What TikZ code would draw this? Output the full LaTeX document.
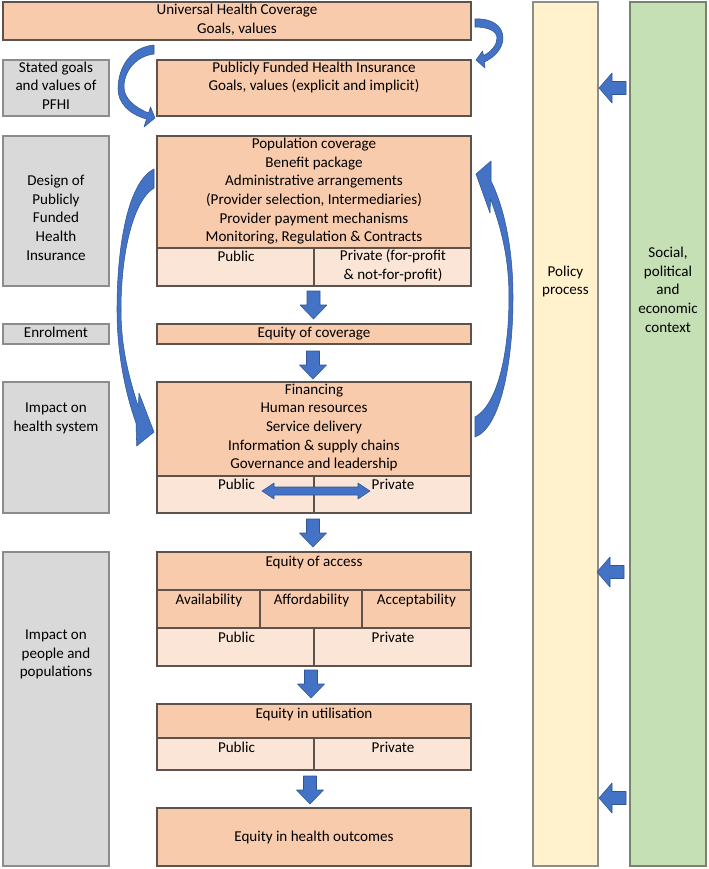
\documentclass[tikz,border=0pt]{standalone}
\usepackage{fontspec}
\setmainfont{Carlito}
\definecolor{orangefill}{HTML}{F8CBAD}
\definecolor{lightorange}{HTML}{FBE5D6}
\definecolor{boxline}{HTML}{5E524C}
\definecolor{grayfill}{HTML}{D9D9D9}
\definecolor{grayline}{HTML}{8C8C8C}
\definecolor{policyfill}{HTML}{FFF2CC}
\definecolor{ctxfill}{HTML}{C5E0B4}
\definecolor{ctxline}{HTML}{77846E}
\definecolor{arrowblue}{HTML}{4472C4}
\definecolor{arrowedge}{HTML}{2F5597}
\newcommand{\boxat}[6]{\node[#2, minimum width={(#5-#3)*0.75pt}, minimum height={(#6-#4)*0.75pt}] (#1) at ({(#3+#5)/2},{(#4+#6)/2}) {};}
\begin{document}
\begin{tikzpicture}[x=0.75pt,y=-0.75pt,
  base/.style={inner sep=0pt, outer sep=0pt, line width=0.8pt},
  obox/.style={base, draw=boxline, fill=orangefill},
  lbox/.style={base, draw=boxline, fill=lightorange},
  gbox/.style={base, draw=grayline, fill=grayfill},
  pbox/.style={base, draw=grayline, fill=policyfill},
  cbox/.style={base, draw=ctxline, fill=ctxfill},
  txt/.style={inner sep=0pt, align=center, font=\fontsize{11.3}{14}\selectfont, text=black,
     execute at begin node=\strut, execute at end node=\strut},
  bluearrow/.style={fill=arrowblue, draw=arrowedge, line width=0.4pt, line join=round},
  downarrow/.pic={\path[bluearrow] (-6.5,0) -- (6.5,0) -- (6.5,14) -- (13.5,14) -- (0,28) -- (-13.5,14) -- (-6.5,14) -- cycle;},
  leftarrow/.pic={\path[bluearrow] (0,0) -- (13,-15) -- (13,-6.5) -- (27,-6.5) -- (27,6.5) -- (13,6.5) -- (13,15) -- cycle;},
  dblarrow/.pic={\path[bluearrow] (0,0) -- (12,-8) -- (12,-4) -- (96,-4) -- (96,-8) -- (108,0) -- (96,8) -- (96,4) -- (12,4) -- (12,8) -- cycle;},
]
\useasboundingbox (0,0) rectangle (709,869);
\fill[white] (0,0) rectangle (709,869);

% right columns
\boxat{pol}{pbox}{533}{2}{598}{866}
\boxat{ctx}{cbox}{630}{2}{706}{866}
\node[txt] (tpol) at (565.5,283) {Policy\\process};
\node[txt] (tctx) at (668,292.5) {Social,\\political\\and\\economic\\context};

% left grey labels
\boxat{sg}{gbox}{3}{60}{109}{116}
\boxat{dg}{gbox}{3}{136}{109}{286}
\boxat{enr}{gbox}{3}{324}{109}{344}
\boxat{ihs}{gbox}{3}{382}{109}{513}
\boxat{ipp}{gbox}{3}{552}{109}{866}
\node[txt] (tsg) at (56,88.5) {Stated goals\\and values of\\PFHI};
\node[txt] (tdg) at (56,220.5) {Design of\\Publicly\\Funded\\Health\\Insurance};
\node[txt] (tenr) at (56,334) {Enrolment};
\node[txt] (tihs) at (56,420) {Impact on\\health system};
\node[txt] (tipp) at (56,656) {Impact on\\people and\\populations};

% main column
\boxat{uhc}{obox}{3}{2}{471}{40}
\node[txt] (tuhc) at (237,21.5) {Universal Health Coverage\\Goals, values};

\boxat{pfhi}{obox}{157}{60}{471}{116}
\node[txt] (tpfhi) at (314,79.2) {Publicly Funded Health Insurance\\Goals, values (explicit and implicit)};

\boxat{dsn}{obox}{157}{136}{471}{248}
\boxat{dpub}{lbox}{157}{248}{314}{286}
\boxat{dpri}{lbox}{314}{248}{471}{286}
\node[txt] (tdsn) at (314,192.7) {Population coverage\\Benefit package\\Administrative arrangements\\(Provider selection, Intermediaries)\\Provider payment mechanisms\\Monitoring, Regulation \& Contracts};
\node[txt] (tdpub) at (236,258) {Public};
\node[txt] (tdpri) at (393,267.5) {Private (for-profit\\\& not-for-profit)};

\boxat{eqc}{obox}{157}{324}{471}{344}
\node[txt] (teqc) at (314,334) {Equity of coverage};

\boxat{hs}{obox}{157}{382}{471}{476}
\boxat{hpub}{lbox}{157}{476}{314}{513}
\boxat{hpri}{lbox}{314}{476}{471}{513}
\node[txt] (ths) at (314,429.2) {Financing\\Human resources\\Service delivery\\Information \& supply chains\\Governance and leadership};
\node[txt] (thpub) at (236.5,485.7) {Public};
\node[txt] (thpri) at (393,485.7) {Private};

\boxat{eqa}{obox}{157}{552}{471}{590}
\boxat{av}{obox}{157}{590}{260}{628}
\boxat{af}{obox}{260}{590}{362}{628}
\boxat{ac}{obox}{362}{590}{471}{628}
\boxat{apub}{lbox}{157}{628}{314}{666}
\boxat{apri}{lbox}{314}{628}{471}{666}
\node[txt] (teqa) at (314,562.3) {Equity of access};
\node[txt] (tav) at (209,600.3) {Availability};
\node[txt] (taf) at (311.5,600.3) {Affordability};
\node[txt] (tac) at (416.5,600.3) {Acceptability};
\node[txt] (tapub) at (236.5,638.3) {Public};
\node[txt] (tapri) at (393,638.3) {Private};

\boxat{equ}{obox}{157}{704}{471}{738}
\boxat{upub}{lbox}{157}{738}{314}{770}
\boxat{upri}{lbox}{314}{738}{471}{770}
\node[txt] (tequ) at (314,714.7) {Equity in utilisation};
\node[txt] (tupub) at (236.5,749) {Public};
\node[txt] (tupri) at (393,749) {Private};

\boxat{eho}{obox}{157}{808}{471}{866}
\node[txt] (teho) at (314,837.7) {Equity in health outcomes};

% straight block arrows
\pic at (313.5,291) {downarrow};
\pic at (313,351) {downarrow};
\pic at (313,519) {downarrow};
\pic at (311,670) {downarrow};
\pic at (310,776) {downarrow};
\pic at (599,88) {leftarrow};
\pic at (597,572) {leftarrow};
\pic at (599,798) {leftarrow};
\pic at (262,491) {dblarrow};

% curved arrows
\path[bluearrow] (475,19) .. controls (492,18) and (503,26) .. (503,38)
  .. controls (503,48) and (495,57) .. (484.5,62) -- (485,68) -- (476,60) -- (482.5,51) -- (483.5,55.5)
  .. controls (491,52) and (497,45) .. (497,38) .. controls (497,31) and (488,27) .. (475,27) -- cycle;

\path[bluearrow] (154,45) .. controls (131,47) and (118,67) .. (118,89)
  .. controls (118,102) and (128,114) .. (146.5,119) -- (144,127) -- (155,118) -- (150.5,107) -- (148.5,113)
  .. controls (134,107) and (124,98) .. (124,87) .. controls (124,70) and (137,56) .. (154,54) -- cycle;

\path[bluearrow] (154,169) .. controls (128,182) and (117,245) .. (117,310)
  .. controls (117,355) and (126,395) .. (136,423) -- (136.7,446) -- (154,432) -- (139,393) -- (138.3,406.5)
  .. controls (128,375) and (121,345) .. (121,310) .. controls (121,250) and (134,200) .. (154,188) -- cycle;

\path[bluearrow] (475,437) .. controls (500,428) and (513,365) .. (513,297)
  .. controls (513,245) and (503,205) .. (491,181) -- (491,161) -- (476,174) -- (490,213) -- (490.5,199)
  .. controls (502,230) and (509,260) .. (509,297) .. controls (509,355) and (497,405) .. (475,417) -- cycle;
\end{tikzpicture}
\end{document}
